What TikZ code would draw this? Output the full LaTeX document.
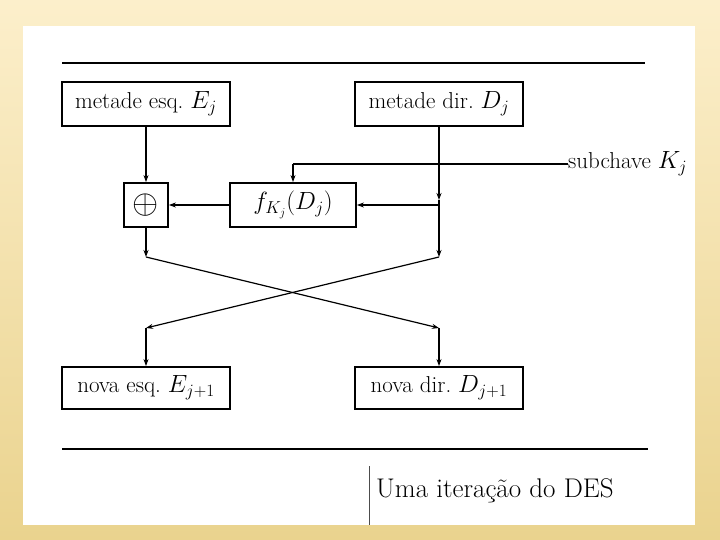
\documentclass[tikz,border=0pt]{standalone}
\usetikzlibrary{arrows.meta}
\definecolor{bgtop}{RGB}{252,239,203}
\definecolor{bgbot}{RGB}{234,211,142}
\tikzset{
  blk/.style={draw=black,line width=1.8pt,minimum height=43pt,inner sep=0pt,font=\fontsize{23}{27}\selectfont},
  conn/.style={line width=1.2pt,-{Stealth[length=7pt,width=5pt]}},
  plain/.style={line width=1.1pt},
  rule/.style={line width=1.5pt}
}
\begin{document}
\begin{tikzpicture}[x=1pt,y=-1pt]
\useasboundingbox (0,0) rectangle (720,540);
\shade[top color=bgtop,bottom color=bgbot] (0,0) rectangle (720,540);
\fill[white] (23,26) rectangle (695,525);
% rules
\draw[rule] (62,63) -- (645,63);
\draw[rule] (62,449) -- (648,449);
% boxes
\node[blk,minimum width=168pt,minimum height=44pt] (E) at (146,104) {metade esq.\ $E_j$};
\node[blk,minimum width=168pt,minimum height=44pt] (D) at (439,104) {metade dir.\ $D_j$};
\node[blk,minimum width=44pt,minimum height=44pt] (X) at (146,205) {\scalebox{1.35}{$\oplus$}};
\node[blk,minimum width=126pt,minimum height=44pt] (F) at (293,205) {$f_{K_j}(D_j)$};
\node[blk,minimum width=168pt,minimum height=42pt] (E1) at (146,388) {nova esq.\ $E_{j+1}$};
\node[blk,minimum width=168pt,minimum height=42pt] (D1) at (439,388) {nova dir.\ $D_{j+1}$};
\node[anchor=west,inner sep=0pt,font=\fontsize{23}{27}\selectfont] (K) at (568,164) {subchave $K_j$};
\node[anchor=west,inner sep=0pt,font=\fontsize{27}{32}\selectfont] (cap) at (376,491) {Uma itera\c{c}\~ao do DES};
% junction coordinates
\coordinate (kc) at (293,164);
\coordinate (dj) at (439,205);
\coordinate (dm) at (439,200);
\coordinate (lt) at (146,257);
\coordinate (rt) at (439,257);
\coordinate (lb) at (146,328);
\coordinate (rb) at (439,328);
% connectors
\draw[conn] (E.south) -- (X.north);
\draw[plain] (K.west) -- (kc);
\draw[conn] (kc) -- (F.north);
\draw[conn] (D.south) -- (dm);
\draw[conn] (dm) -- (rt);
\draw[conn] (dj) -- (F.east);
\draw[conn] (F.west) -- (X.east);
\draw[conn] (X.south) -- (lt);
\draw[conn] (lt) -- (rb);
\draw[conn] (rt) -- (lb);
\draw[conn] (lb) -- (E1.north);
\draw[conn] (rb) -- (D1.north);
% caption rule
\draw[line width=0.6pt,black!70] (369,466) -- (369,525);
\end{tikzpicture}
\end{document}
